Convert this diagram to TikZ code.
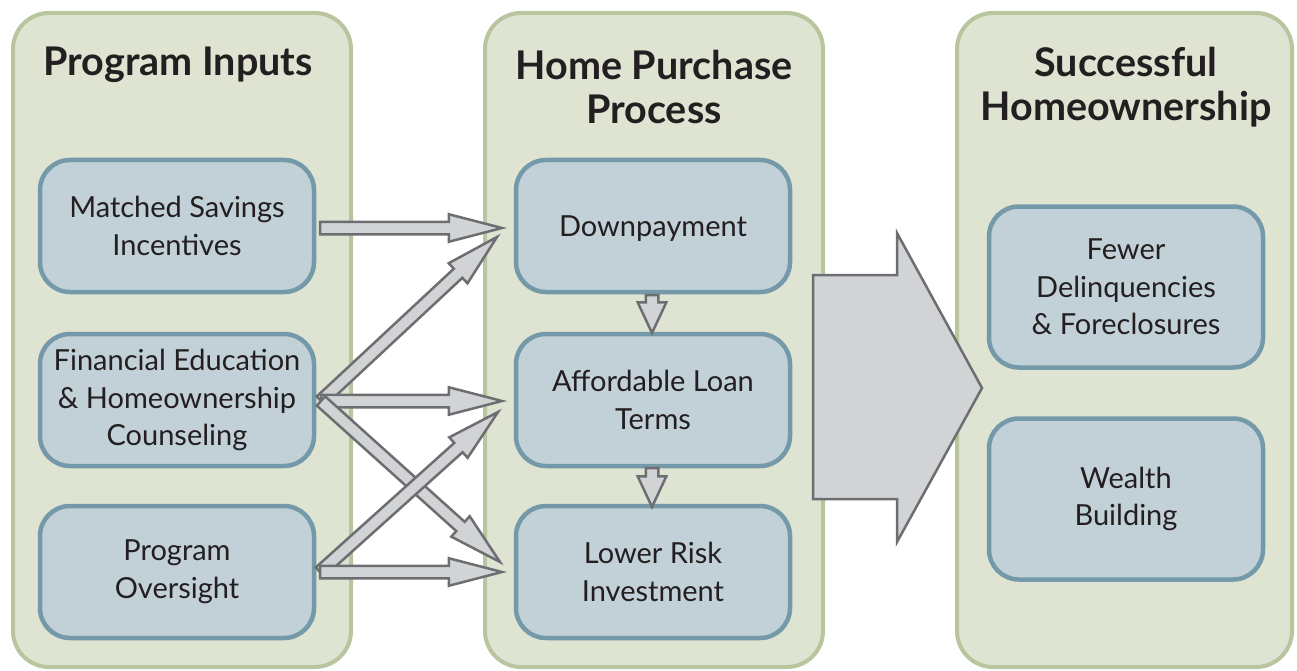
\documentclass[tikz,border=0pt]{standalone}
\usepackage{fontspec}
\setmainfont{Lato}
\usetikzlibrary{shapes.arrows,calc}
\definecolor{panelfill}{HTML}{DFE3D2}
\definecolor{paneldraw}{HTML}{B8C59F}
\definecolor{boxfill}{HTML}{C2D0D8}
\definecolor{boxdraw}{HTML}{7499A9}
\definecolor{arrfill}{HTML}{D1D3D4}
\definecolor{arrdraw}{HTML}{6D6E71}
\definecolor{txt}{HTML}{231F20}
\tikzset{
 panel/.style={draw=paneldraw, fill=panelfill, line width=4pt, rounded corners=36pt},
 ibox/.style={draw=boxdraw, fill=boxfill, line width=4.5pt, rounded corners=30pt,
   minimum width=274pt, minimum height=132pt, align=center, text=txt,
   font=\fontsize{29}{37.5}\selectfont, inner sep=0pt},
 tallbox/.style={ibox, minimum height=161pt},
 title/.style={text=txt, font=\bfseries\fontsize{39.5}{44}\selectfont, align=center, inner sep=0pt},
 barrow/.style={single arrow, draw=arrdraw, fill=arrfill, line width=2.5pt,
   single arrow head extend=7.5pt, single arrow tip angle=29, inner xsep=0pt,
   inner ysep=5pt, minimum width=0pt, anchor=tail, outer sep=0pt},
 sarrow/.style={barrow, single arrow head extend=8pt, single arrow tip angle=50},
 bigarrow/.style={draw=arrdraw, fill=arrfill, line width=2.5pt},
}
\newcommand\blockarr[3][]{%
  \path let \p1=($(#3)-(#2)$), \n1={atan2(\y1,\x1)}, \n2={veclen(\x1,\y1)} in
    node[barrow,#1,rotate=\n1,minimum height=\n2] at (#2) {};}
\begin{document}
\begin{tikzpicture}[x=1pt,y=-1pt]
\useasboundingbox (0,0) rectangle (1297,671);
% panels
\draw[panel] (13,13) rectangle (351,667);
\draw[panel] (485,13) rectangle (823,667);
\draw[panel] (957,13) rectangle (1292,667);
% titles
\node[title] (t1) at (178,65) {Program Inputs};
\node[title] (t2) at (654,87) {Home Purchase\\Process};
\node[title] (t3) at (1126,87) {Successful\\Homeownership};
% boxes
\node[ibox] (a1) at (177,226) {Matched Savings\\Incentives};
\node[ibox] (a2) at (177,400) {Financial Education\\\& Homeownership\\Counseling};
\node[ibox] (a3) at (177,572) {Program\\Oversight};
\node[ibox] (b1) at (653,226) {\raisebox{-10.5pt}[0pt][0pt]{Downpayment}};
\node[ibox] (b2) at (653,400) {Affordable Loan\\Terms};
\node[ibox] (b3) at (653,572) {Lower Risk\\Investment};
\node[tallbox] (c1) at (1126,287) {Fewer\\Delinquencies\\\& Foreclosures};
\node[tallbox] (c2) at (1126,499) {Wealth\\Building};
% arrow end points
\coordinate (mS) at (320,228); \coordinate (mE) at (502,228);
\coordinate (fS) at (321,401); \coordinate (fU) at (497,237);
\coordinate (fH) at (502,401); \coordinate (fD) at (500,562);
\coordinate (oS) at (320,572); \coordinate (oU) at (498,412);
\coordinate (oH) at (502,572);
\coordinate (d1s) at (652,295); \coordinate (d1e) at (652,333);
\coordinate (d2s) at (652,468); \coordinate (d2e) at (652,507);
% arrows
\blockarr[name=arrm]{mS}{mE}
\blockarr[name=arrfu]{fS}{fU}
\blockarr[name=arrfh]{fS}{fH}
\blockarr[name=arrfd]{fS}{fD}
\blockarr[name=arrou]{oS}{oU}
\blockarr[name=arroh]{oS}{oH}
\blockarr[name=arrd1,sarrow]{d1s}{d1e}
\blockarr[name=arrd2,sarrow]{d2s}{d2e}
% big arrow
\draw[bigarrow] (813,275) -- (897,275) -- (897,233) -- (982,388) -- (897,542)
  -- (897,499) -- (813,499) -- cycle;
\end{tikzpicture}
\end{document}
